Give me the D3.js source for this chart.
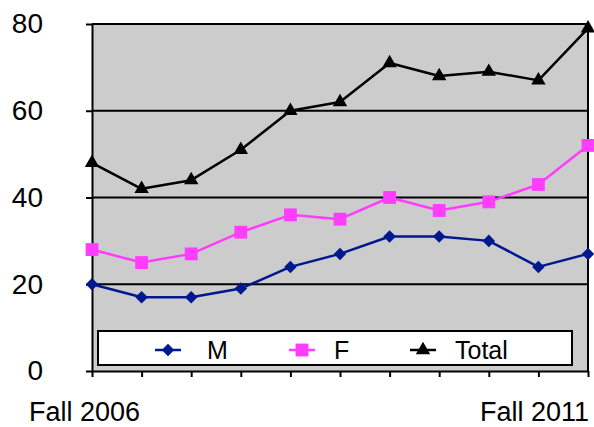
<!DOCTYPE html>
<html>
<head>
<meta charset="utf-8">
<script src="https://cdn.jsdelivr.net/npm/d3@7"></script>
<style>
  html, body { margin: 0; padding: 0; background: #fff; }
  svg { display: block; font-family: "Liberation Sans", Arial, Helvetica, sans-serif; }
</style>
</head>
<body>
<svg id="chart" width="594" height="427"></svg>
<script>
// Enrollment by term
const terms = ["Fall 2006", "Spring 2007", "Fall 2007", "Spring 2008", "Fall 2008", "Spring 2009",
               "Fall 2009", "Spring 2010", "Fall 2010", "Spring 2011", "Fall 2011"];
const maleValues   = [20, 17, 17, 19, 24, 27, 31, 31, 30, 24, 27];
const femaleValues = [28, 25, 27, 32, 36, 35, 40, 37, 39, 43, 52];
const totalValues  = [48, 42, 44, 51, 60, 62, 71, 68, 69, 67, 79];
const yTicks = [0, 20, 40, 60, 80];
const shownTermLabels = ["Fall 2006", "Fall 2011"];

const seriesList = [
  { name: "M", values: maleValues, color: "#00188f", symbol: d3.symbolDiamond2, size: 100 },
  { name: "F", values: femaleValues, color: "#ff3dff", symbol: d3.symbolSquare, size: 165 },
  { name: "Total", values: totalValues, color: "#000000", symbol: d3.symbolTriangle, size: 90 }
];

const svg = d3.select("#chart");
const plot = { left: 92, top: 24, right: 588, bottom: 371 };

const x = d3.scalePoint().domain(terms).range([plot.left, plot.right]).padding(0);
const y = d3.scaleLinear().domain([0, 80]).range([plot.bottom, plot.top]);

// Plot area background
svg.append("rect")
  .attr("x", plot.left).attr("y", plot.top)
  .attr("width", plot.right - plot.left).attr("height", plot.bottom - plot.top)
  .attr("fill", "#cccccc");

// Horizontal gridlines
svg.append("g")
  .selectAll("line")
  .data(yTicks.filter(d => d > 0))
  .join("line")
  .attr("x1", plot.left).attr("x2", plot.right)
  .attr("y1", d => y(d)).attr("y2", d => y(d))
  .attr("stroke", "#000").attr("stroke-width", 2);

// Right border of plot area
svg.append("line")
  .attr("x1", plot.right).attr("x2", plot.right)
  .attr("y1", plot.top).attr("y2", plot.bottom)
  .attr("stroke", "#000").attr("stroke-width", 2);

// Y axis
const yAxis = svg.append("g")
  .attr("transform", `translate(${plot.left},0)`)
  .call(d3.axisLeft(y).tickValues(yTicks).tickSize(6).tickPadding(43).tickSizeOuter(0));
yAxis.select(".domain").attr("stroke", "#000").attr("stroke-width", 2);
yAxis.selectAll(".tick line").attr("stroke", "#000").attr("stroke-width", 2);
yAxis.selectAll(".tick text")
  .attr("font-size", 28).attr("fill", "#000")
  .attr("font-family", "Liberation Sans, Arial, sans-serif");

// X axis (ticks only; the end labels are placed below)
const xAxis = svg.append("g")
  .attr("transform", `translate(0,${plot.bottom})`)
  .call(d3.axisBottom(x).tickSize(6).tickSizeOuter(0).tickFormat(""));
xAxis.select(".domain").attr("stroke", "#000").attr("stroke-width", 2);
xAxis.selectAll(".tick line").attr("stroke", "#000").attr("stroke-width", 2);

svg.append("g")
  .selectAll("text")
  .data(shownTermLabels)
  .join("text")
  .attr("x", (d, i) => i === 0 ? x(d) - 63 : x(d) + 1)
  .attr("y", 421)
  .attr("text-anchor", (d, i) => i === 0 ? "start" : "end")
  .attr("font-size", 27)
  .attr("fill", "#000")
  .text(d => d);

// Series lines and markers
const line = d3.line().x((d, i) => x(terms[i])).y(d => y(d));

seriesList.forEach(s => {
  const g = svg.append("g");
  g.append("path")
    .datum(s.values)
    .attr("d", line)
    .attr("fill", "none")
    .attr("stroke", s.color)
    .attr("stroke-width", 2.5)
    .attr("stroke-linejoin", "round");
  g.selectAll("path.marker")
    .data(s.values)
    .join("path")
    .attr("class", "marker")
    .attr("transform", (d, i) => `translate(${x(terms[i])},${y(d)})`)
    .attr("d", d3.symbol(s.symbol, s.size))
    .attr("fill", s.color);
});

// Legend
const legend = svg.append("g");
legend.append("rect")
  .attr("x", 98).attr("y", 331).attr("width", 474).attr("height", 34)
  .attr("fill", "#fff").attr("stroke", "#000").attr("stroke-width", 2);

const legendItems = [
  { marker: 168, text: 207 },
  { marker: 302, text: 334 },
  { marker: 423, text: 455 }
];
seriesList.forEach((s, i) => {
  const cx = legendItems[i].marker, cy = 350;
  legend.append("line")
    .attr("x1", cx - 13).attr("x2", cx + 13)
    .attr("y1", cy).attr("y2", cy)
    .attr("stroke", s.color).attr("stroke-width", 2.5);
  legend.append("path")
    .attr("transform", `translate(${cx},${cy})`)
    .attr("d", d3.symbol(s.symbol, s.size))
    .attr("fill", s.color);
  legend.append("text")
    .attr("x", legendItems[i].text).attr("y", 359)
    .attr("font-size", 25).attr("fill", "#000")
    .text(s.name);
});
</script>
</body>
</html>
